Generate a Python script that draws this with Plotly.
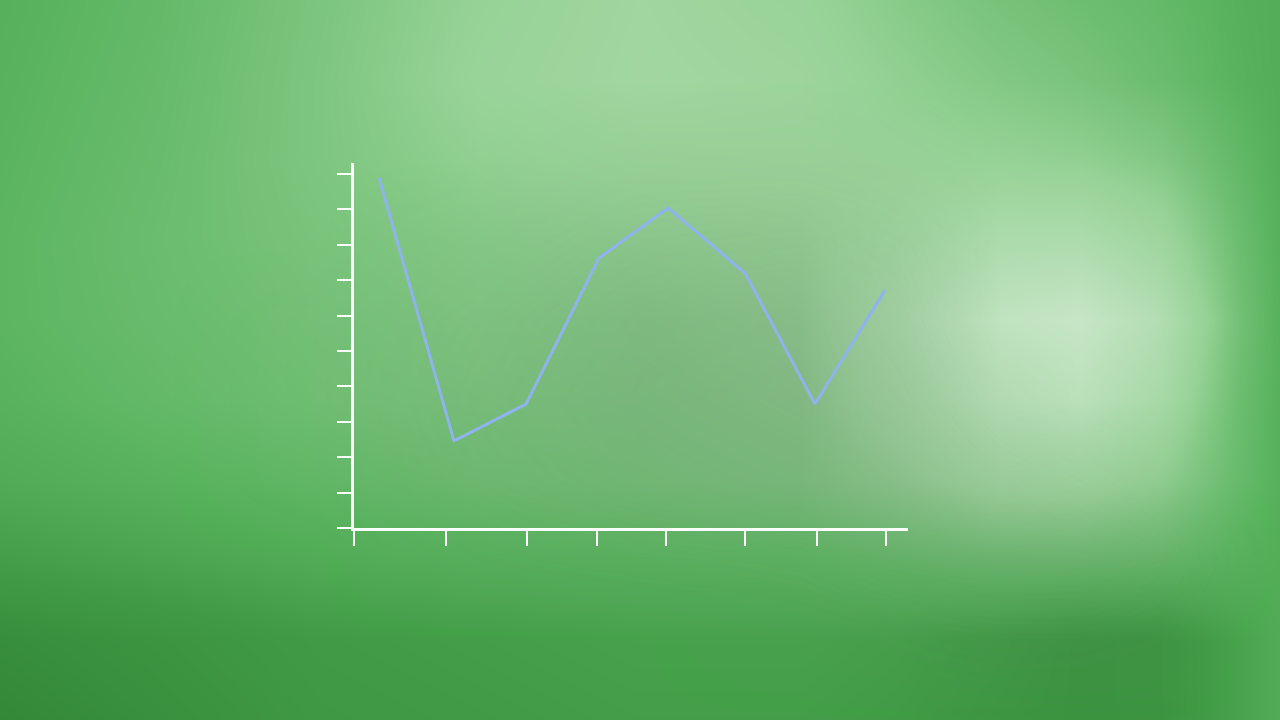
import plotly.graph_objects as go

# ---- data ----
x_vals = [25, 100, 172, 245, 314, 391, 461, 531]
y_vals = [9.89, 2.46, 3.50, 7.63, 9.04, 7.20, 3.50, 6.72]
x_ticks = [0, 92, 173, 243, 312, 391, 463, 532]
y_ticks = [0, 1, 2, 3, 4, 5, 6, 7, 8, 9, 10]

# ---- blurred green backdrop (lightness grid, smoothed by the heatmap) ----
bg_x = [0, 160, 320, 480, 640, 800, 900, 1000, 1080, 1160, 1240, 1280]
bg_y = [0, 80, 160, 240, 320, 400, 480, 560, 640, 720]
bg_z = [
    [0.33, 0.39, 0.49, 0.60, 0.67, 0.62, 0.54, 0.47, 0.43, 0.39, 0.33, 0.31],
    [0.34, 0.40, 0.50, 0.62, 0.68, 0.65, 0.58, 0.52, 0.48, 0.42, 0.34, 0.31],
    [0.35, 0.41, 0.50, 0.58, 0.62, 0.63, 0.62, 0.60, 0.58, 0.52, 0.38, 0.32],
    [0.36, 0.42, 0.48, 0.53, 0.56, 0.58, 0.66, 0.76, 0.76, 0.66, 0.42, 0.33],
    [0.36, 0.41, 0.46, 0.50, 0.50, 0.55, 0.72, 0.90, 0.95, 0.80, 0.45, 0.33],
    [0.34, 0.39, 0.44, 0.47, 0.47, 0.52, 0.66, 0.82, 0.86, 0.72, 0.42, 0.33],
    [0.30, 0.34, 0.38, 0.42, 0.44, 0.47, 0.56, 0.66, 0.66, 0.58, 0.40, 0.33],
    [0.22, 0.26, 0.30, 0.32, 0.33, 0.34, 0.37, 0.40, 0.40, 0.38, 0.33, 0.31],
    [0.10, 0.15, 0.20, 0.22, 0.24, 0.24, 0.22, 0.18, 0.14, 0.15, 0.25, 0.30],
    [0.06, 0.12, 0.18, 0.20, 0.22, 0.22, 0.20, 0.16, 0.14, 0.15, 0.25, 0.30],
]
bg_scale = [
    [0.0, "rgb(45,128,50)"],
    [0.2, "rgb(65,155,70)"],
    [0.35, "rgb(90,180,95)"],
    [0.6, "rgb(150,210,150)"],
    [0.8, "rgb(178,221,178)"],
    [1.0, "rgb(205,232,205)"],
]
# greyish haze in the middle of the backdrop
haze_z = [
    [0, 0, 0, 0, 0, 0, 0, 0, 0, 0, 0, 0],
    [0, 0, 0, 0, 0, 0, 0, 0, 0, 0, 0, 0],
    [0, 0, 0, 0, 0.10, 0.10, 0.05, 0, 0, 0, 0, 0],
    [0, 0, 0, 0.10, 0.25, 0.30, 0.20, 0, 0, 0, 0, 0],
    [0, 0, 0.05, 0.20, 0.40, 0.50, 0.30, 0, 0, 0, 0, 0],
    [0, 0, 0.05, 0.25, 0.45, 0.55, 0.40, 0.10, 0, 0, 0, 0],
    [0, 0, 0.05, 0.20, 0.35, 0.45, 0.45, 0.30, 0.20, 0.10, 0, 0],
    [0, 0, 0, 0.10, 0.15, 0.20, 0.30, 0.35, 0.35, 0.25, 0.05, 0],
    [0, 0, 0, 0, 0, 0.05, 0.10, 0.15, 0.15, 0.10, 0, 0],
    [0, 0, 0, 0, 0, 0, 0, 0, 0, 0, 0, 0],
]
haze_scale = [
    [0.0, "rgba(125,135,125,0)"],
    [1.0, "rgba(125,135,125,0.45)"],
]

fig = go.Figure()

fig.add_trace(go.Heatmap(
    x=bg_x, y=bg_y, z=bg_z, zmin=0, zmax=1,
    colorscale=bg_scale, zsmooth="best", showscale=False,
    hoverinfo="skip", xaxis="x", yaxis="y",
))
fig.add_trace(go.Heatmap(
    x=bg_x, y=bg_y, z=haze_z, zmin=0, zmax=1,
    colorscale=haze_scale, zsmooth="best", showscale=False,
    hoverinfo="skip", xaxis="x", yaxis="y",
))

fig.add_trace(go.Scatter(
    x=x_vals, y=y_vals, mode="lines",
    line=dict(color="#8fb3ee", width=3),
    xaxis="x2", yaxis="y2", showlegend=False,
))

X0, X1 = 354 / 1280, 908 / 1280
Y0, Y1 = (720 - 528) / 720, (720 - 163) / 720

fig.update_layout(
    width=1280, height=720,
    margin=dict(l=0, r=0, t=0, b=0),
    paper_bgcolor="rgb(85,175,90)",
    plot_bgcolor="rgba(0,0,0,0)",
    showlegend=False,
    xaxis=dict(domain=[0, 1], range=[0, 1280], visible=False, fixedrange=True),
    yaxis=dict(domain=[0, 1], range=[720, 0], visible=False, fixedrange=True),
    xaxis2=dict(
        domain=[X0, X1], range=[0, 554], anchor="y2",
        showgrid=False, zeroline=False, showticklabels=False,
        showline=True, linecolor="white", linewidth=3,
        ticks="outside", tickvals=x_ticks, ticklen=15, tickwidth=2, tickcolor="white",
    ),
    yaxis2=dict(
        domain=[Y0, Y1], range=[0, 10.31], anchor="x2",
        showgrid=False, zeroline=False, showticklabels=False,
        showline=True, linecolor="white", linewidth=3,
        ticks="outside", tickvals=y_ticks, ticklen=14, tickwidth=2, tickcolor="white",
    ),
    shapes=[dict(
        type="rect", xref="x2 domain", yref="y2 domain",
        x0=0, x1=1, y0=0, y1=1, layer="below",
        fillcolor="rgba(255,255,255,0.05)", line=dict(width=0),
    )],
)

fig.write_html(
    "out.html",
    config={"displayModeBar": False},
    post_script="document.body.style.margin='0';document.body.style.overflow='hidden';",
)
